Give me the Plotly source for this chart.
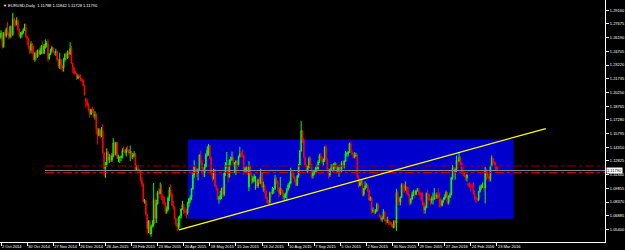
import plotly.graph_objects as go

# ---------------- data (EURUSD, Daily) ----------------
date_labels = ["2 Oct 2014", "30 Oct 2014", "27 Nov 2014", "26 Dec 2014", "26 Jan 2015",
               "23 Feb 2015", "23 Mar 2015", "20 Apr 2015", "18 May 2015", "15 Jun 2015",
               "13 Jul 2015", "10 Aug 2015", "7 Sep 2015", "5 Oct 2015", "2 Nov 2015",
               "30 Nov 2015", "29 Dec 2015", "27 Jan 2016", "24 Feb 2016", "23 Mar 2016"]
label_bars = [0, 20, 40, 60, 80, 100, 120, 140, 160, 180,
              200, 220, 240, 260, 280, 300, 320, 340, 360, 380]
price_ticks = [1.05400, 1.06885, 1.08370, 1.09855, 1.11340, 1.12825, 1.14310, 1.15795,
               1.17280, 1.18765, 1.20250, 1.21735, 1.23220, 1.24705, 1.26190, 1.27675, 1.29160]

O = [
 1.2620,1.2670,1.2520,1.2665,1.2640,1.2710,1.2660,1.2630,1.2740,1.2650,1.2820,1.2810,1.2760,1.2800,1.2710,1.2640,1.2650,1.2670,1.2700,1.2730,1.2630,1.2610,
 1.2525,1.2480,1.2550,1.2470,1.2380,1.2450,1.2410,1.2480,1.2440,1.2480,1.2530,1.2450,1.2530,1.2550,1.2550,1.2390,1.2440,1.2480,1.2510,1.2460,
 1.2450,1.2470,1.2380,1.2310,1.2380,1.2290,1.2290,1.2380,1.2440,1.2400,1.2460,1.2440,1.2500,1.2340,1.2290,1.2230,1.2230,1.2180,1.2200,1.2190,1.2160,1.2160,
 1.2100,1.1950,1.1930,1.1890,1.1840,1.1790,1.1840,1.1830,1.1770,1.1780,1.1630,1.1560,1.1620,1.1550,1.1610,1.1370,1.1200,1.1240,1.1380,1.1290,1.1320,
 1.1290,1.1340,1.1480,1.1350,1.1480,1.1310,1.1320,1.1320,1.1330,1.1400,1.1390,1.1370,1.1410,1.1400,1.1370,1.1380,1.1330,1.1340,1.1360,1.1190,
 1.1195,1.1180,1.1175,1.1070,1.1030,1.0840,1.0850,1.0700,1.0550,1.0630,1.0490,1.0570,1.0600,1.0860,1.0660,1.0820,1.0940,1.0930,1.0970,1.0890,1.0890,1.0830,
 1.0730,1.0760,1.0880,1.0970,1.0920,1.0800,1.0780,1.0660,1.0600,1.0570,1.0660,1.0685,1.0760,1.0810,1.0740,1.0730,1.0720,1.0820,1.0870,1.0890,1.0980,1.1130,
 1.1220,1.1200,1.1150,1.1190,1.1350,1.1260,1.1200,1.1150,1.1220,1.1350,1.1400,1.1450,1.1320,1.1150,1.1090,1.1190,1.1010,1.0980,1.0870,1.0880,1.0910,
 1.0990,1.0920,1.1150,1.1240,1.1240,1.1110,1.1290,1.1290,1.1320,1.1250,1.1260,1.1280,1.1240,1.1330,1.1360,1.1350,1.1340,1.1170,1.1200,1.1200,1.1000,1.1230,
 1.1140,1.1060,1.1090,1.1050,1.1060,1.1010,1.1080,1.1040,1.1160,1.1000,1.1010,1.0950,1.0880,1.0830,1.0830,1.0940,1.0930,1.0980,1.0980,1.1090,1.1060,1.0990,1.0930,
 1.0980,1.0950,1.0890,1.0900,1.0930,1.0970,1.1020,1.1040,1.1160,1.1150,1.1110,1.1080,1.1020,1.1120,1.1240,1.1390,1.1610,1.1510,1.1320,1.1240,1.1180,
 1.1210,1.1310,1.1230,1.1120,1.1150,1.1170,1.1200,1.1200,1.1270,1.1340,1.1320,1.1270,1.1290,1.1430,1.1300,1.1190,1.1130,1.1190,1.1210,1.1190,1.1240,1.1250,
 1.1180,1.1190,1.1210,1.1190,1.1260,1.1240,1.1280,1.1360,1.1360,1.1380,1.1470,1.1380,1.1350,1.1320,1.1340,1.1340,1.1110,1.1010,1.1050,1.1050,1.0920,1.0980,
 1.1010,1.1020,1.0960,1.0860,1.0880,1.0740,1.0750,1.0720,1.0740,1.0810,1.0690,1.0690,1.0650,1.0660,1.0730,1.0640,1.0630,1.0640,1.0620,1.0610,1.0590,
 1.0560,1.0630,1.0610,1.0940,1.0880,1.0840,1.0890,1.1020,1.0990,1.0990,1.1000,1.0930,1.0910,1.0830,1.0870,1.0920,1.0950,1.0920,1.0960,1.0970,1.0940,1.0930,
 1.0860,1.0830,1.0750,1.0780,1.0930,1.0920,1.0860,1.0860,1.0870,1.0870,1.0920,1.0890,1.0910,1.0890,1.0870,1.0800,1.0850,1.0870,1.0890,1.0940,
 1.0830,1.0890,1.0920,1.1100,1.1210,1.1160,1.1190,1.1290,1.1280,1.1320,1.1260,1.1150,1.1150,1.1120,1.1100,1.1030,1.1020,1.1020,1.1020,1.1020,1.0930,
 1.0870,1.0870,1.0860,1.0950,1.1000,1.1010,1.1010,1.0990,1.1180,1.1150,1.1110,1.1090,1.1230,1.1310,1.1270,1.1240,1.1220,1.11788,
]
H = [
 1.2700,1.2680,1.2680,1.2700,1.2730,1.2790,1.2680,1.2750,1.2750,1.2887,1.2840,1.2810,1.2840,1.2820,1.2720,1.2680,1.2690,1.2720,1.2770,1.2770,1.2640,1.2620,
 1.2530,1.2580,1.2560,1.2530,1.2460,1.2480,1.2490,1.2500,1.2510,1.2540,1.2580,1.2550,1.2600,1.2580,1.2600,1.2450,1.2500,1.2530,1.2510,1.2470,
 1.2500,1.2480,1.2390,1.2456,1.2390,1.2320,1.2400,1.2450,1.2460,1.2480,1.2480,1.2570,1.2530,1.2340,1.2300,1.2260,1.2240,1.2220,1.2220,1.2220,1.2180,1.2170,
 1.2110,1.1970,1.1960,1.1910,1.1850,1.1850,1.1870,1.1850,1.1820,1.1800,1.1640,1.1640,1.1630,1.1650,1.1680,1.1380,1.1270,1.1420,1.1390,1.1360,1.1350,
 1.1370,1.1530,1.1490,1.1490,1.1490,1.1350,1.1330,1.1340,1.1420,1.1440,1.1410,1.1430,1.1450,1.1410,1.1450,1.1390,1.1370,1.1390,1.1370,1.1240,
 1.1240,1.1200,1.1180,1.1110,1.1040,1.0870,1.0860,1.0710,1.0640,1.0640,1.0590,1.0640,1.1043,1.0880,1.0860,1.0960,1.0990,1.1050,1.1030,1.0920,1.0900,1.0830,
 1.0790,1.0900,1.1000,1.1030,1.0940,1.0850,1.0790,1.0670,1.0610,1.0680,1.0690,1.0770,1.0850,1.0820,1.0780,1.0760,1.0840,1.0880,1.0910,1.0990,1.1150,1.1290,
 1.1240,1.1210,1.1200,1.1350,1.1390,1.1290,1.1210,1.1250,1.1370,1.1440,1.1467,1.1450,1.1330,1.1160,1.1200,1.1190,1.1020,1.0990,1.0900,1.0960,1.0990,
 1.1000,1.1160,1.1270,1.1380,1.1250,1.1300,1.1330,1.1385,1.1330,1.1270,1.1290,1.1290,1.1340,1.1436,1.1390,1.1410,1.1350,1.1220,1.1230,1.1220,1.1280,1.1240,
 1.1150,1.1120,1.1140,1.1120,1.1070,1.1090,1.1110,1.1200,1.1160,1.1060,1.1030,1.0960,1.0900,1.0860,1.0950,1.0950,1.1000,1.0990,1.1130,1.1110,1.1070,1.1000,1.1110,
 1.0990,1.0970,1.0930,1.0940,1.0990,1.1040,1.1060,1.1210,1.1180,1.1170,1.1120,1.1090,1.1130,1.1250,1.1400,1.1714,1.1620,1.1530,1.1330,1.1250,1.1230,
 1.1330,1.1330,1.1250,1.1170,1.1180,1.1220,1.1240,1.1290,1.1360,1.1370,1.1330,1.1310,1.1440,1.1460,1.1310,1.1200,1.1200,1.1250,1.1250,1.1260,1.1270,1.1260,
 1.1230,1.1240,1.1240,1.1280,1.1290,1.1290,1.1390,1.1380,1.1390,1.1480,1.1495,1.1390,1.1370,1.1380,1.1370,1.1360,1.1130,1.1070,1.1080,1.1080,1.0990,1.1060,
 1.1040,1.1030,1.0970,1.0900,1.0890,1.0780,1.0760,1.0760,1.0830,1.0810,1.0710,1.0700,1.0680,1.0760,1.0740,1.0650,1.0680,1.0650,1.0630,1.0620,1.0600,
 1.0640,1.0640,1.0981,1.0960,1.0890,1.0900,1.1040,1.1040,1.1030,1.1060,1.1010,1.1000,1.0920,1.0880,1.0950,1.0970,1.0960,1.0970,1.0990,1.0990,1.0950,1.0940,
 1.0940,1.0840,1.0800,1.0940,1.0970,1.0930,1.0880,1.0900,1.0940,1.0990,1.0930,1.0940,1.0990,1.0940,1.0880,1.0860,1.0890,1.0920,1.0960,1.0950,
 1.0910,1.0940,1.1110,1.1240,1.1220,1.1200,1.1340,1.1300,1.1376,1.1330,1.1270,1.1220,1.1160,1.1130,1.1140,1.1050,1.1050,1.1030,1.1040,1.1050,1.0960,
 1.0900,1.0880,1.0960,1.1020,1.1030,1.1050,1.1040,1.1218,1.1200,1.1160,1.1120,1.1240,1.1342,1.1320,1.1280,1.1270,1.1230,1.11842,
]
L = [
 1.2600,1.2500,1.2510,1.2600,1.2620,1.2650,1.2600,1.2610,1.2620,1.2640,1.2740,1.2740,1.2750,1.2690,1.2620,1.2610,1.2620,1.2660,1.2690,1.2620,1.2540,1.2500,
 1.2440,1.2450,1.2440,1.2380,1.2358,1.2380,1.2400,1.2410,1.2430,1.2440,1.2440,1.2440,1.2500,1.2510,1.2360,1.2380,1.2430,1.2460,1.2450,1.2430,
 1.2420,1.2360,1.2290,1.2280,1.2270,1.2250,1.2250,1.2360,1.2380,1.2390,1.2400,1.2430,1.2330,1.2240,1.2220,1.2220,1.2160,1.2170,1.2180,1.2150,1.2130,1.2090,
 1.1990,1.1860,1.1870,1.1820,1.1750,1.1780,1.1800,1.1750,1.1730,1.1570,1.1460,1.1550,1.1530,1.1540,1.1360,1.1115,1.1098,1.1220,1.1290,1.1260,1.1270,
 1.1270,1.1320,1.1350,1.1340,1.1310,1.1270,1.1260,1.1280,1.1310,1.1380,1.1340,1.1330,1.1380,1.1350,1.1280,1.1310,1.1300,1.1320,1.1180,1.1180,
 1.1170,1.1160,1.1060,1.1000,1.0840,1.0820,1.0690,1.0490,1.0500,1.0490,1.0462,1.0560,1.0570,1.0610,1.0610,1.0810,1.0880,1.0920,1.0860,1.0810,1.0800,1.0710,
 1.0710,1.0740,1.0850,1.0900,1.0790,1.0760,1.0650,1.0580,1.0520,1.0540,1.0560,1.0660,1.0750,1.0710,1.0690,1.0660,1.0700,1.0780,1.0830,1.0860,1.0970,1.1100,
 1.1160,1.1110,1.1070,1.1180,1.1250,1.1140,1.1110,1.1110,1.1210,1.1330,1.1340,1.1300,1.1130,1.1060,1.1080,1.1000,1.0960,1.0860,1.0819,1.0860,1.0870,
 1.0888,1.0900,1.1120,1.1200,1.1050,1.1100,1.1230,1.1280,1.1220,1.1150,1.1130,1.1190,1.1220,1.1320,1.1320,1.1320,1.1130,1.1150,1.1150,1.1130,1.0955,1.1120,
 1.1030,1.1040,1.1060,1.0970,1.0990,1.0990,1.1030,1.1030,1.0990,1.0950,1.0930,1.0870,1.0820,1.0809,1.0820,1.0890,1.0920,1.0930,1.0970,1.1030,1.0950,1.0890,1.0910,
 1.0920,1.0870,1.0850,1.0880,1.0850,1.0960,1.0990,1.1030,1.1100,1.1090,1.1050,1.1010,1.1010,1.1100,1.1230,1.1380,1.1480,1.1320,1.1220,1.1160,1.1150,
 1.1200,1.1220,1.1090,1.1090,1.1130,1.1150,1.1160,1.1180,1.1260,1.1300,1.1250,1.1230,1.1270,1.1290,1.1180,1.1090,1.1110,1.1180,1.1160,1.1170,1.1200,1.1150,
 1.1150,1.1110,1.1170,1.1160,1.1220,1.1200,1.1270,1.1330,1.1330,1.1370,1.1370,1.1340,1.1310,1.1310,1.1330,1.1090,1.0990,1.1010,1.1020,1.0900,1.0900,1.0970,
 1.0990,1.0940,1.0850,1.0850,1.0710,1.0720,1.0700,1.0710,1.0730,1.0740,1.0670,1.0630,1.0620,1.0650,1.0630,1.0590,1.0610,1.0590,1.0590,1.0570,1.0560,
 1.0550,1.0570,1.0524,1.0800,1.0800,1.0800,1.0880,1.0920,1.0940,1.0960,1.0920,1.0900,1.0800,1.0810,1.0860,1.0900,1.0880,1.0910,1.0950,1.0910,1.0900,1.0850,
 1.0800,1.0710,1.0710,1.0770,1.0800,1.0850,1.0800,1.0820,1.0810,1.0860,1.0870,1.0870,1.0880,1.0780,1.0780,1.0790,1.0830,1.0860,1.0880,1.0810,
 1.0810,1.0880,1.0910,1.1080,1.1100,1.1080,1.1160,1.1200,1.1270,1.1240,1.1150,1.1120,1.1110,1.1070,1.1060,1.1000,1.0990,1.0950,1.0990,1.0920,1.0860,
 1.0830,1.0840,1.0850,1.0940,1.0970,1.0990,1.0950,1.0822,1.1070,1.1090,1.1060,1.1060,1.1220,1.1250,1.1230,1.1170,1.1170,1.11728,
]
C = [
 1.2670,1.2520,1.2665,1.2640,1.2710,1.2660,1.2630,1.2740,1.2650,1.2820,1.2810,1.2760,1.2800,1.2710,1.2640,1.2650,1.2670,1.2700,1.2730,1.2630,1.2610,1.2525,
 1.2480,1.2550,1.2470,1.2380,1.2450,1.2410,1.2480,1.2440,1.2480,1.2530,1.2450,1.2530,1.2550,1.2550,1.2390,1.2440,1.2480,1.2510,1.2460,1.2450,
 1.2470,1.2380,1.2310,1.2380,1.2290,1.2290,1.2380,1.2440,1.2400,1.2460,1.2440,1.2500,1.2340,1.2290,1.2230,1.2230,1.2180,1.2200,1.2190,1.2160,1.2160,1.2100,
 1.2000,1.1930,1.1890,1.1840,1.1790,1.1840,1.1830,1.1770,1.1780,1.1630,1.1560,1.1620,1.1550,1.1610,1.1370,1.1200,1.1240,1.1380,1.1290,1.1320,1.1290,
 1.1340,1.1480,1.1350,1.1480,1.1310,1.1320,1.1320,1.1330,1.1400,1.1390,1.1370,1.1410,1.1400,1.1370,1.1380,1.1330,1.1340,1.1360,1.1190,1.1195,
 1.1180,1.1175,1.1070,1.1030,1.0840,1.0850,1.0700,1.0550,1.0630,1.0490,1.0570,1.0600,1.0860,1.0660,1.0820,1.0940,1.0930,1.0970,1.0890,1.0890,1.0830,1.0730,
 1.0760,1.0880,1.0970,1.0920,1.0800,1.0780,1.0660,1.0600,1.0570,1.0660,1.0685,1.0760,1.0810,1.0740,1.0730,1.0720,1.0820,1.0870,1.0890,1.0980,1.1130,1.1220,
 1.1200,1.1150,1.1190,1.1350,1.1260,1.1200,1.1150,1.1220,1.1350,1.1400,1.1450,1.1320,1.1150,1.1090,1.1190,1.1010,1.0980,1.0870,1.0880,1.0910,1.0990,
 1.0920,1.1150,1.1240,1.1240,1.1110,1.1290,1.1290,1.1320,1.1250,1.1260,1.1280,1.1240,1.1330,1.1360,1.1350,1.1340,1.1170,1.1200,1.1200,1.1160,1.1230,1.1140,
 1.1060,1.1090,1.1110,1.1060,1.1010,1.1080,1.1040,1.1160,1.1000,1.1010,1.0950,1.0880,1.0830,1.0830,1.0940,1.0930,1.0980,1.0980,1.1090,1.1060,1.0990,1.0930,1.0980,
 1.0950,1.0890,1.0900,1.0930,1.0970,1.1020,1.1040,1.1160,1.1150,1.1110,1.1080,1.1020,1.1120,1.1240,1.1390,1.1610,1.1510,1.1320,1.1240,1.1180,1.1210,
 1.1310,1.1230,1.1120,1.1150,1.1170,1.1200,1.1200,1.1270,1.1340,1.1320,1.1270,1.1290,1.1430,1.1300,1.1190,1.1130,1.1190,1.1210,1.1190,1.1240,1.1250,1.1180,
 1.1190,1.1210,1.1190,1.1260,1.1240,1.1280,1.1360,1.1360,1.1380,1.1470,1.1380,1.1350,1.1320,1.1340,1.1340,1.1110,1.1010,1.1050,1.1050,1.0920,1.0980,1.1010,
 1.1020,1.0960,1.0860,1.0880,1.0740,1.0750,1.0720,1.0740,1.0810,1.0770,1.0690,1.0650,1.0660,1.0730,1.0640,1.0630,1.0640,1.0620,1.0610,1.0590,1.0560,
 1.0630,1.0610,1.0940,1.0880,1.0840,1.0890,1.1020,1.0990,1.0990,1.1000,1.0930,1.0910,1.0830,1.0870,1.0920,1.0950,1.0920,1.0960,1.0970,1.0940,1.0930,1.0860,
 1.0830,1.0750,1.0780,1.0930,1.0920,1.0860,1.0860,1.0870,1.0870,1.0920,1.0890,1.0910,1.0890,1.0870,1.0800,1.0850,1.0870,1.0890,1.0940,1.0830,
 1.0890,1.0920,1.1100,1.1210,1.1160,1.1190,1.1290,1.1280,1.1320,1.1260,1.1150,1.1150,1.1120,1.1100,1.1130,1.1020,1.1020,1.1020,1.1020,1.0930,1.0870,
 1.0870,1.0860,1.0950,1.1000,1.1010,1.1010,1.0990,1.1180,1.1150,1.1110,1.1090,1.1230,1.1310,1.1270,1.1240,1.1220,1.1179,1.11790,
]

title_text = "EURUSD,Daily  1.11788 1.11842 1.11728 1.11790"
current_price = 1.11790

# drawn objects (bar index, price)
rect_x = [143.1, 392.9]
rect_y = [1.0656, 1.1514]
trend_x = [136.4, 417.4]
trend_y = [1.0535, 1.1634]
hline_start = 33.7
hline_red_upper = 1.1228
hline_red_lower = 1.1157

# ---------------- figure ----------------
n = len(C)
bars = list(range(n))

fig = go.Figure()
fig.add_trace(go.Candlestick(
    x=bars, open=O, high=H, low=L, close=C,
    increasing=dict(line=dict(color="#00FF00", width=1), fillcolor="#00FF00"),
    decreasing=dict(line=dict(color="#FF0000", width=1), fillcolor="#FF0000"),
    whiskerwidth=0, showlegend=False, hoverinfo="skip"))

shapes = [
    dict(type="rect", xref="x", yref="y", x0=rect_x[0], x1=rect_x[1], y0=rect_y[0], y1=rect_y[1],
         fillcolor="#0000CD", line=dict(width=0), layer="below"),
    dict(type="line", xref="x", yref="y", x0=hline_start, x1=470, y0=hline_red_upper, y1=hline_red_upper,
         line=dict(color="#8B0000", width=1, dash="dashdot")),
    dict(type="line", xref="x", yref="y", x0=hline_start, x1=470, y0=hline_red_lower, y1=hline_red_lower,
         line=dict(color="#D00000", width=1, dash="dashdot")),
    dict(type="line", xref="x", yref="y", x0=hline_start, x1=470, y0=current_price, y1=current_price,
         line=dict(color="#778899", width=1)),
    dict(type="line", xref="x", yref="y", x0=trend_x[0], x1=trend_x[1], y0=trend_y[0], y1=trend_y[1],
         line=dict(color="#FFFF00", width=1.3)),
]

fig.update_layout(
    width=625, height=250,
    margin=dict(l=0, r=20, t=0, b=8, autoexpand=False),
    paper_bgcolor="black", plot_bgcolor="black",
    shapes=shapes,
    font=dict(family="Liberation Sans, Arial, sans-serif", color="white", size=4),
    xaxis=dict(range=[-0.77, 462.8], rangeslider=dict(visible=False), automargin=False,
               showgrid=False, zeroline=False, showline=True, linecolor="white", linewidth=1,
               ticks="outside", ticklen=3, tickcolor="white", tickwidth=1, tickangle=0,
               tickvals=label_bars, ticktext=date_labels, ticklabelposition="outside right",
               tickfont=dict(size=4, color="white")),
    yaxis=dict(range=[1.0404, 1.3027], side="right", automargin=False,
               showgrid=False, zeroline=False, showline=True, linecolor="white", linewidth=1,
               ticks="outside", ticklen=3, tickcolor="white", tickwidth=1,
               tickvals=price_ticks, ticktext=["%.5f" % v for v in price_ticks],
               tickfont=dict(size=4, color="white")),
    annotations=[
        dict(xref="paper", yref="paper", x=0, y=1, xanchor="left", yanchor="top",
             text="▼ " + title_text, showarrow=False, xshift=1, yshift=-1,
             font=dict(size=4, color="white")),
        dict(xref="paper", yref="y", x=1, y=current_price, xanchor="left", yanchor="middle",
             text="%.5f" % current_price, showarrow=False, bgcolor="white", borderpad=0,
             font=dict(size=4, color="black"), xshift=1),
    ],
)

fig.write_html("out.html")
